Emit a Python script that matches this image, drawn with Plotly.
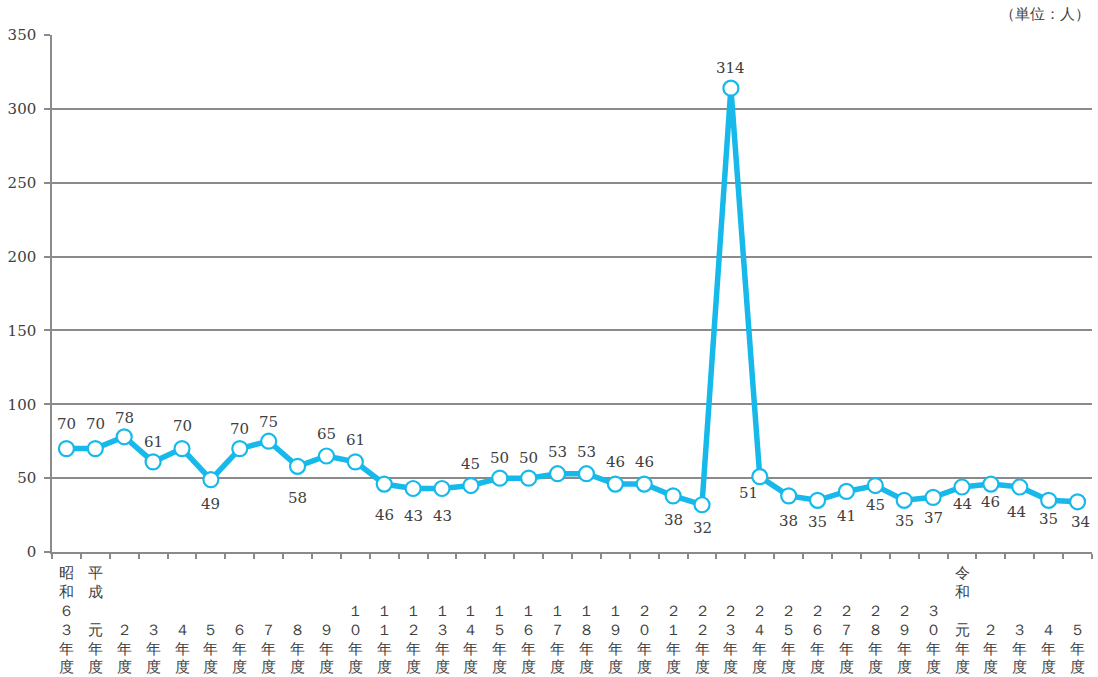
import plotly.graph_objects as go

# 年度ラベル（縦書き表示用）
years = (
    ["昭和６３年度", "平成元年度"]
    + [f"{n}年度" for n in ["２", "３", "４", "５", "６", "７", "８", "９",
                          "１０", "１１", "１２", "１３", "１４", "１５", "１６", "１７",
                          "１８", "１９", "２０", "２１", "２２", "２３", "２４", "２５",
                          "２６", "２７", "２８", "２９", "３０"]]
    + ["令和元年度", "２年度", "３年度", "４年度", "５年度"]
)
keys = [f"c{i}" for i in range(len(years))]

# 人数
counts = [70, 70, 78, 61, 70, 49, 70, 75, 58, 65, 61, 46, 43, 43, 45, 50, 50, 53,
          53, 46, 46, 38, 32, 314, 51, 38, 35, 41, 45, 35, 37, 44, 46, 44, 35, 34]

# 数値ラベルの縦方向オフセット（px、正: 上 / 負: 下）
label_dy = [25, 25, 19, 20, 23, -24, 20, 19, -32, 22, 22, -31, -28, -28,
            22, 20, 20, 22, 22, 22, 22, -24, -23, 20, -16, -25, -22, -25,
            -19, -21, -21, -17, -18, -25, -19, -20]
# 横方向の微調整（px）
label_dx = {24: -11, 33: -3, 35: 3}

ERAS = ("昭和", "平成", "令和")

SERIF = "DejaVu Serif"
TEXT = "#404040"
GRID = "#8a8a8a"
BLUE = "#17B9EB"


def vertical(label, rows=6):
    """縦書きラベル：元号は上端、年度部分は下端に揃える"""
    head = []
    if label[:2] in ERAS:
        head, label = list(label[:2]), label[2:]
    body = list(label)
    pad = ["\u3000"] * (rows - len(head) - len(body))
    return "<br>".join(head + pad + body)


ticktext = [vertical(y) for y in years]

fig = go.Figure(
    go.Scatter(
        x=keys,
        y=counts,
        mode="lines+markers",
        line=dict(color=BLUE, width=5.5),
        marker=dict(size=15, color="white", line=dict(color=BLUE, width=2.2)),
        cliponaxis=False,
        hoverinfo="skip",
    )
)

# 数値ラベル
for i, (k, v) in enumerate(zip(keys, counts)):
    fig.add_annotation(
        x=k, y=v, xref="x", yref="y",
        text=str(v),
        showarrow=False,
        yshift=label_dy[i],
        xshift=label_dx.get(i, 0),
        font=dict(family=SERIF, size=15, color=TEXT),
    )

fig.update_xaxes(
    type="category",
    tickmode="array",
    tickvals=keys,
    ticktext=ticktext,
    tickson="boundaries",
    ticks="outside",
    ticklen=5,
    tickcolor=GRID,
    tickwidth=1.5,
    range=[-0.5, len(keys) - 0.5],
    showline=True,
    linecolor=GRID,
    linewidth=1.5,
    showgrid=False,
    tickfont=dict(family=SERIF, size=14.5, color=TEXT),
    tickangle=0,
    ticklabelstandoff=7,
    automargin=False,
)

fig.update_yaxes(
    range=[0, 350],
    dtick=50,
    ticks="outside",
    ticklen=6,
    tickcolor=GRID,
    tickwidth=1.5,
    showline=True,
    linecolor=GRID,
    linewidth=1.5,
    showgrid=True,
    gridcolor=GRID,
    gridwidth=1.5,
    zeroline=False,
    tickfont=dict(family=SERIF, size=15, color=TEXT),
    ticklabelstandoff=5,
    automargin=False,
)

fig.add_annotation(
    text="（単位：人）",
    xref="paper", yref="paper",
    x=1.0, y=1.0,
    xanchor="right", yanchor="bottom",
    yshift=10,
    showarrow=False,
    font=dict(family=SERIF, size=15, color=TEXT),
)

fig.update_layout(
    width=1098,
    height=677,
    margin=dict(l=52, r=6, t=35, b=125),
    paper_bgcolor="white",
    plot_bgcolor="white",
    showlegend=False,
)

fig.write_html("out.html")
